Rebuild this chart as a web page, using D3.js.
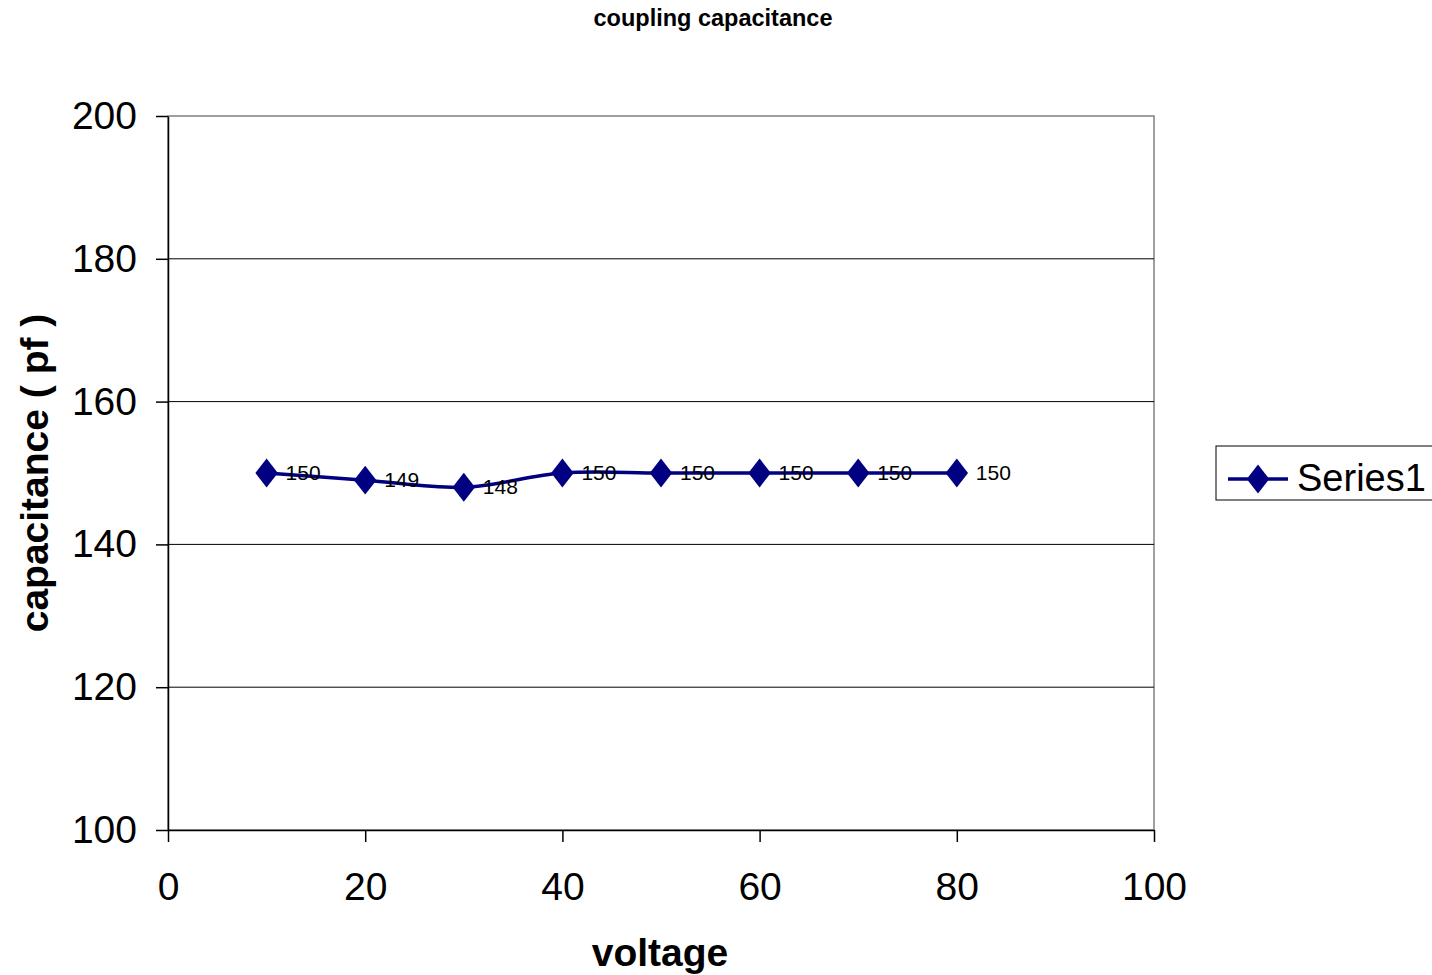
<!DOCTYPE html>
<html>
<head>
    <meta charset="UTF-8">
    <title>coupling capacitance</title>
    <style>
        body { margin: 0; background: #fff; }
        svg { display: block; font-family: Arial, "Liberation Sans", sans-serif; }
    </style>
</head>
<body>
    <svg></svg>
    <script src="https://d3js.org/d3.v7.min.js"></script>
    <script>
        let width = 1432, height = 975;

        // data
        let voltage = [10, 20, 30, 40, 50, 60, 70, 80];
        let capacitance = [150, 149, 148, 150, 150, 150, 150, 150];
        let xTicks = [0, 20, 40, 60, 80, 100];
        let yTicks = [100, 120, 140, 160, 180, 200];
        let seriesName = "Series1";

        let svg = d3.select("svg").attr("width", width).attr("height", height);

        let plotLeft = 168, plotRight = 1154, plotTop = 116, plotBottom = 830;

        let x = d3.scaleLinear().domain([0, 100]).range([plotLeft, plotRight]);
        let y = d3.scaleLinear().domain([100, 200]).range([plotBottom, plotTop]);

        // plot area border
        svg.append("rect")
            .attr("x", plotLeft).attr("y", plotTop)
            .attr("width", plotRight - plotLeft).attr("height", plotBottom - plotTop)
            .attr("fill", "none").attr("stroke", "#808080").attr("stroke-width", 1.5);

        // gridlines
        svg.append("g")
            .selectAll("line")
            .data(yTicks.slice(1, -1))
            .enter().append("line")
            .attr("x1", plotLeft).attr("x2", plotRight)
            .attr("y1", d => y(d)).attr("y2", d => y(d))
            .attr("stroke", "#000").attr("stroke-width", 1);

        // axes
        let xAxis = svg.append("g")
            .attr("transform", "translate(0," + plotBottom + ")")
            .call(d3.axisBottom(x).tickValues(xTicks).tickSize(12).tickPadding(30).tickSizeOuter(0));
        let yAxis = svg.append("g")
            .attr("transform", "translate(" + plotLeft + ",0)")
            .call(d3.axisLeft(y).tickValues(yTicks).tickSize(12).tickPadding(19).tickSizeOuter(0));

        [xAxis, yAxis].forEach(a => {
            a.select(".domain").attr("stroke", "#000").attr("stroke-width", 1.5);
            a.selectAll(".tick line").attr("stroke", "#000").attr("stroke-width", 1.5);
            a.selectAll("text").attr("fill", "#000").style("font-size", "39px").style("font-family", "Arial, 'Liberation Sans', sans-serif");
        });

        // series line (smoothed)
        let line = d3.line()
            .x((d, i) => x(voltage[i]))
            .y(d => y(d))
            .curve(d3.curveCardinal.tension(0));

        svg.append("path")
            .datum(capacitance)
            .attr("d", line)
            .attr("fill", "none")
            .attr("stroke", "#000080")
            .attr("stroke-width", 3.5);

        let diamond = d3.symbol().type(d3.symbolDiamond).size(240);

        svg.append("g")
            .selectAll("path")
            .data(capacitance)
            .enter().append("path")
            .attr("d", diamond)
            .attr("transform", (d, i) => "translate(" + x(voltage[i]) + "," + y(d) + ") scale(1.35,1)")
            .attr("fill", "#000080");

        // data labels
        svg.append("g")
            .selectAll("text")
            .data(capacitance)
            .enter().append("text")
            .attr("x", (d, i) => x(voltage[i]) + 19)
            .attr("y", d => y(d) + 7)
            .style("font-size", "21px")
            .attr("fill", "#000")
            .text(d => d);

        // title and axis titles
        svg.append("text")
            .attr("x", 713).attr("y", 26)
            .attr("text-anchor", "middle")
            .style("font-size", "23.5px").style("font-weight", "bold")
            .text("coupling capacitance");

        svg.append("text")
            .attr("transform", "translate(48,473) rotate(-90)")
            .attr("text-anchor", "middle")
            .style("font-size", "39px").style("font-weight", "bold")
            .text("capacitance ( pf )");

        svg.append("text")
            .attr("x", 660).attr("y", 966)
            .attr("text-anchor", "middle")
            .style("font-size", "39px").style("font-weight", "bold")
            .text("voltage");

        // legend
        let legend = svg.append("g").attr("transform", "translate(1216,446)");
        legend.append("rect")
            .attr("width", 230).attr("height", 54)
            .attr("fill", "#fff").attr("stroke", "#000").attr("stroke-width", 1);
        legend.append("line")
            .attr("x1", 12).attr("x2", 72).attr("y1", 33).attr("y2", 33)
            .attr("stroke", "#000080").attr("stroke-width", 3.5);
        legend.append("path")
            .attr("d", diamond)
            .attr("transform", "translate(42,33) scale(1.35,1)")
            .attr("fill", "#000080");
        legend.append("text")
            .attr("x", 81).attr("y", 45)
            .style("font-size", "38px")
            .text(seriesName);
    </script>
</body>
</html>
